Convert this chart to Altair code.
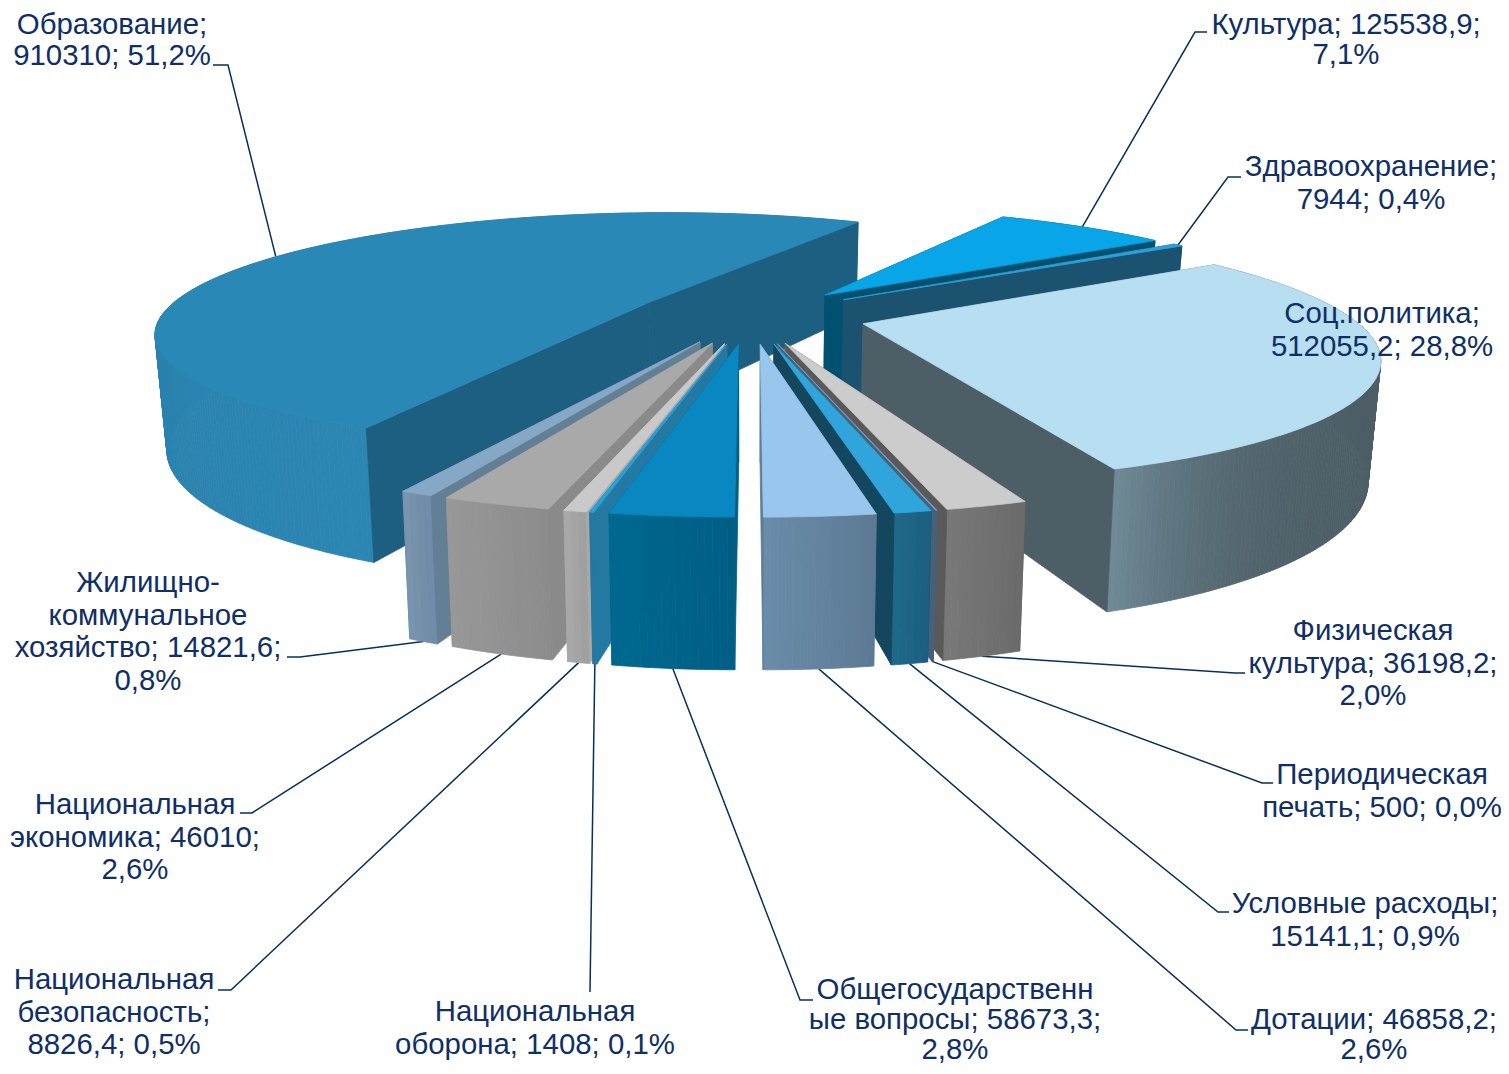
import math
import altair as alt

# ---- data ----
names = ["Образование", "Культура", "Здравоохранение", "Соц.политика", "Физическая культура",
         "Периодическая печать", "Условные расходы", "Дотации", "Общегосударственные вопросы",
         "Национальная оборона", "Национальная безопасность", "Национальная экономика",
         "Жилищно-коммунальное хозяйство"]
shares = [51.03, 7.15, 0.4, 28.8, 2.0, 0.03, 0.9, 2.65, 2.95, 0.1, 0.55, 2.65, 0.8]
label_lines = [
    ["Образование;", "910310; 51,2%"],
    ["Культура; 125538,9;", "7,1%"],
    ["Здравоохранение;", "7944; 0,4%"],
    ["Соц.политика;", "512055,2; 28,8%"],
    ["Физическая", "культура; 36198,2;", "2,0%"],
    ["Периодическая", "печать; 500; 0,0%"],
    ["Условные расходы;", "15141,1; 0,9%"],
    ["Дотации; 46858,2;", "2,6%"],
    ["Общегосударственн", "ые вопросы; 58673,3;", "2,8%"],
    ["Национальная", "оборона; 1408; 0,1%"],
    ["Национальная", "безопасность;", "8826,4; 0,5%"],
    ["Национальная", "экономика; 46010;", "2,6%"],
    ["Жилищно-", "коммунальное", "хозяйство; 14821,6;", "0,8%"],
]
top_colors = ["#2A88B6", "#08A5E8", "#2E9FD8", "#B8DEF2", "#CCCCCC", "#7F9DBE", "#30A5DC",
              "#98C6EC", "#0887C0", "#2A9FD8", "#C9C9C9", "#A9A9A9", "#86A7C6"]
wall_colors = ["#1C5F80", "#00506F", "#1A5270", "#4D5E66", "#595959", "#48607A", "#14475E",
               "#5B7D98", "#005F85", "#2479A3", "#A8A8A8", "#8A8A8A", "#637F96"]
rim_from = ["#2C86B2", "#00506F", "#1A5270", "#4D5E66", "#6B6B6B", "#48607A", "#1C5F80",
            "#5C7A94", "#005E85", "#2479A3", "#A0A0A0", "#8C8C8C", "#6F8CA8"]
rim_to = ["#2477A2", "#00506F", "#1A5270", "#6F8A96", "#787878", "#48607A", "#1F6888",
          "#6A8CA8", "#00688F", "#2479A3", "#A8A8A8", "#989898", "#7894AE"]
rim_gamma = [1, 1, 1, 10, 1, 1, 1, 1, 1, 1, 1, 1, 1]

# ---- view of the pie (layout only) ----
W, H = 1493, 1058
MARGIN = 8
CX, CY = 750, 315        # centre of the pie on the page
RX, RY = 487, 116        # radii on the plane through the centre
PERSP = 0.233            # how fast things grow towards the viewer
DEPTH = 111.5            # wall height
NARROW = 0.02            # how much the lower face shrinks
EXPLODE = 0.24
START = 115.4            # angle of the first slice, clockwise from 3 o'clock

draw_order = [0, 1, 2, 3, 12, 11, 10, 9, 8, 4, 5, 6, 7]
leader_on_top = {0, 1, 2}   # anchored on the upper rim, the rest on the lower one

label_at = {0: (112, 25), 1: (1346, 25), 2: (1371, 167), 3: (1382, 314), 4: (1373, 631), 5: (1382, 775),
            6: (1365, 904), 7: (1374, 1020), 8: (955, 990), 9: (535, 1012), 10: (114, 980),
            11: (135, 805), 12: (148, 583)}
LINE_STEP = 32.6
tight_step = {7: 30, 8: 30, 0: 31, 1: 30}
elbows = {0: [(228, 65), (213, 65)], 1: [(1195, 32), (1207, 32)], 2: [(1228, 177), (1241, 177)],
          4: [(1235, 673), (1245, 673)], 5: [(1262, 783), (1273, 783)], 6: [(1218, 912), (1229, 912)],
          7: [(1236, 1030), (1248, 1030)], 8: [(800, 1000), (813, 1000)], 9: [(590, 992)],
          10: [(231, 990), (218, 990)], 11: [(252, 813), (240, 813)], 12: [(300, 657), (287, 657)]}


def project(X, Y, z=0.0):
    s = 1 / (1 - PERSP * Y)
    n = 1 - NARROW * z
    return (CX + RX * X * s * n - MARGIN, CY + RY * Y * s * n + DEPTH * z * s - MARGIN)


def mix(c0, c1, t):
    a = [int(c0[i:i + 2], 16) for i in (1, 3, 5)]
    b = [int(c1[i:i + 2], 16) for i in (1, 3, 5)]
    return "#%02x%02x%02x" % tuple(round(p + (q - p) * t) for p, q in zip(a, b))


def polygon(points, color):
    ring = [list(p) for p in points] + [list(points[0])]
    return {"type": "Feature", "properties": {"color": color},
            "geometry": {"type": "Polygon", "coordinates": [ring]}}


total = sum(shares)
spans, angle = [], START
for v in shares:
    sweep = 360 * v / total
    spans.append((angle, angle + sweep))
    angle += sweep


def tip_of(i):
    m = math.radians(sum(spans[i]) / 2)
    return EXPLODE * math.cos(m), EXPLODE * math.sin(m)


def rim_point(i, deg):
    tx, ty = tip_of(i)
    return tx + math.cos(math.radians(deg)), ty + math.sin(math.radians(deg))


def faces_viewer(tip, end, mid):
    p, q, m = project(*tip), project(*end), project(*mid)
    cross_m = (q[0] - p[0]) * (m[1] - p[1]) - (q[1] - p[1]) * (m[0] - p[0])
    cross_d = (q[0] - p[0])  # edge x (0, 1)
    return cross_m * cross_d < 0


features = []
for i in draw_order:
    a0, a1 = spans[i]
    tip = tip_of(i)
    steps = max(2, int((a1 - a0) / 0.6))
    degs = [a0 + (a1 - a0) * j / steps for j in range(steps + 1)]
    rim = [rim_point(i, d) for d in degs]
    mid = rim_point(i, (a0 + a1) / 2)

    def cut(end):
        return polygon([project(*tip), project(*end), project(*end, 1), project(*tip, 1)], wall_colors[i])

    # cut walls turned away from the viewer go under the outer wall
    front = []
    for end in (rim[-1], rim[0]):
        if faces_viewer(tip, end, mid):
            front.append(cut(end))
        else:
            features.append(cut(end))
    # outer wall, far strips first
    strips = sorted(range(steps), key=lambda j: rim[j][1] + rim[j + 1][1])
    for j in strips:
        t = (j / max(1, steps - 1)) ** rim_gamma[i]
        features.append(polygon([project(*rim[j]), project(*rim[j + 1]), project(*rim[j + 1], 1), project(*rim[j], 1)],
                                mix(rim_from[i], rim_to[i], t)))
    features.extend(front)
    features.append(polygon([project(*tip)] + [project(*p) for p in rim], top_colors[i]))

leaders = []
for i, tail in elbows.items():
    mid = sum(spans[i]) / 2
    z = 0 if i in leader_on_top else 1
    start = project(*rim_point(i, mid), z)
    path = [list(start)] + [[x - MARGIN, y - MARGIN] for x, y in tail]
    leaders.append({"type": "Feature", "properties": {"name": names[i]},
                    "geometry": {"type": "LineString", "coordinates": path}})

text_rows = []
for i, lines in enumerate(label_lines):
    x, y = label_at[i]
    step = tight_step.get(i, LINE_STEP)
    for n, line in enumerate(lines):
        text_rows.append({"t": line, "x": x - MARGIN, "y": y + n * step - MARGIN, "key": f"{i}-{n}"})

solid = alt.Chart(alt.Data(values=features)).mark_geoshape(strokeWidth=0.8).encode(
    fill=alt.Fill("properties.color:N", scale=None),
    stroke=alt.Stroke("properties.color:N", scale=None),
)
lines_layer = alt.Chart(alt.Data(values=leaders)).mark_geoshape(filled=False, stroke="#06315C", strokeWidth=1.5)
labels = alt.Chart(alt.Data(values=text_rows)).mark_text(
    font="Liberation Sans", fontSize=29.4, color="#0F2F66", align="center", baseline="middle"
).encode(longitude="x:Q", latitude="y:Q", text="t:N", detail="key:N")

chart = alt.layer(lines_layer, solid, labels).project(
    type="identity", scale=1, translate=[0, 0]
).properties(
    width=W, height=H, padding=0, background="white"
).configure_view(stroke=None)

chart.save("out.html", embed_options={"renderer": "svg", "actions": False})
